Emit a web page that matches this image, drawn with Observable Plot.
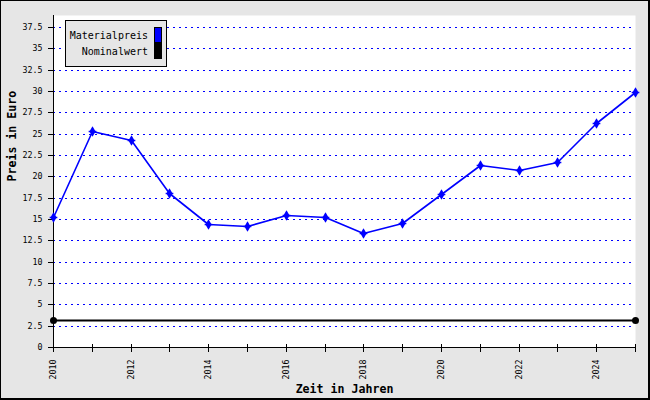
<!DOCTYPE html>
<html>
<head>
<meta charset="utf-8">
<script src="https://cdn.jsdelivr.net/npm/d3@7"></script>
<script src="https://cdn.jsdelivr.net/npm/@observablehq/plot@0.6"></script>
<style>
  html, body { margin: 0; padding: 0; background: #fff; }
  #wrap { position: relative; width: 650px; height: 400px; }
  #wrap svg { display: block; background: #e6e6e6;
    box-shadow: inset 1px 1px 0 #000, inset -2px -2px 0 #000; }
  #legend { position: absolute; left: 65px; top: 20px; width: 100px; height: 45px;
    background: #e6e6e6; border: 1px solid #000;
    font-family: "DejaVu Sans Mono", monospace; font-size: 10px; color: #000; }
  #legend .row { position: absolute; right: 4px; display: flex; align-items: center; }
  #legend .sw { width: 6px; height: 14px; border: 1px solid #000; margin-left: 6px; }
</style>
</head>
<body>
<div id="wrap"></div>
<script>
const years = [2010,2011,2012,2013,2014,2015,2016,2017,2018,2019,2020,2021,2022,2023,2024,2025];
const materialpreis = [15.2,25.3,24.2,18.05,14.4,14.2,15.5,15.2,13.4,14.5,17.9,21.3,20.7,21.65,26.25,29.85];
const nominalwert = [3.2,3.2,3.2,3.2,3.2,3.2,3.2,3.2,3.2,3.2,3.2,3.2,3.2,3.2,3.2,3.2];
const yTicks = [0,2.5,5,7.5,10,12.5,15,17.5,20,22.5,25,27.5,30,32.5,35,37.5];
const seriesNames = ["Materialpreis", "Nominalwert"];
const seriesColors = ["#0000ff", "#000000"];
const xTitle = "Zeit in Jahren";
const yTitle = "Preis in Euro";

const mat = years.map((x, i) => ({x, y: materialpreis[i]}));
const nom = years.map((x, i) => ({x, y: nominalwert[i]}));
const nomEnds = [nom[0], nom[nom.length - 1]];

const chart = Plot.plot({
  width: 650, height: 400,
  marginLeft: 53, marginRight: 15, marginTop: 15, marginBottom: 53,
  style: {fontFamily: "DejaVu Sans Mono, monospace", fontSize: "8.3px", color: "#000", background: "#e6e6e6"},
  x: {domain: [2010, 2025], axis: null, round: true},
  y: {domain: [0, 38.9], axis: null, round: true},
  marks: [
    Plot.frame({fill: "white", stroke: null}),
    Plot.gridY(yTicks.filter(d => d > 0), {stroke: "#0000ff", strokeOpacity: 1, strokeDasharray: "2,4",
      strokeWidth: 1, shapeRendering: "crispEdges"}),
    Plot.axisY({ticks: yTicks, tickSize: 5, tickPadding: 6, label: null, stroke: "#000",
      tickFormat: d => String(d)}),
    Plot.axisX({ticks: years, tickSize: 8, dy: -3, tickPadding: 7, tickRotate: -90,
      tickFormat: d => d % 2 ? "" : String(d), label: null, stroke: "#000"}),
    Plot.ruleX([2010], {stroke: "#000", strokeWidth: 1}),
    Plot.ruleY([0], {stroke: "#000", strokeWidth: 1}),
    Plot.line(nom, {x: "x", y: "y", stroke: seriesColors[1], strokeWidth: 2.2}),
    Plot.dot(nomEnds, {x: "x", y: "y", fill: seriesColors[1], r: 3.5}),
    Plot.line(mat, {x: "x", y: "y", stroke: seriesColors[0], strokeWidth: 1.6}),
    Plot.dot(mat, {x: "x", y: "y", fill: seriesColors[0], symbol: "diamond", r: 3.2}),
    Plot.dot(mat, {x: "x", y: "y", stroke: seriesColors[0], symbol: "plus", r: 2.6, strokeWidth: 1.5}),
    Plot.text([yTitle], {frameAnchor: "left", dx: -41, rotate: -90, lineAnchor: "middle",
      fontWeight: "bold", fontSize: 11.6, fill: "#000"}),
    Plot.text([xTitle], {frameAnchor: "bottom", dy: 42, lineAnchor: "middle",
      fontWeight: "bold", fontSize: 11.6, fill: "#000"})
  ]
});
const wrap = document.getElementById("wrap");
wrap.appendChild(chart);

const legend = document.createElement("div");
legend.id = "legend";
seriesNames.forEach((name, i) => {
  const row = document.createElement("div");
  row.className = "row";
  row.style.top = (6 + i * 16) + "px";
  const t = document.createElement("span");
  t.textContent = name;
  const sw = document.createElement("span");
  sw.className = "sw";
  sw.style.background = seriesColors[i];
  row.appendChild(t); row.appendChild(sw);
  legend.appendChild(row);
});
wrap.appendChild(legend);
</script>
</body>
</html>
